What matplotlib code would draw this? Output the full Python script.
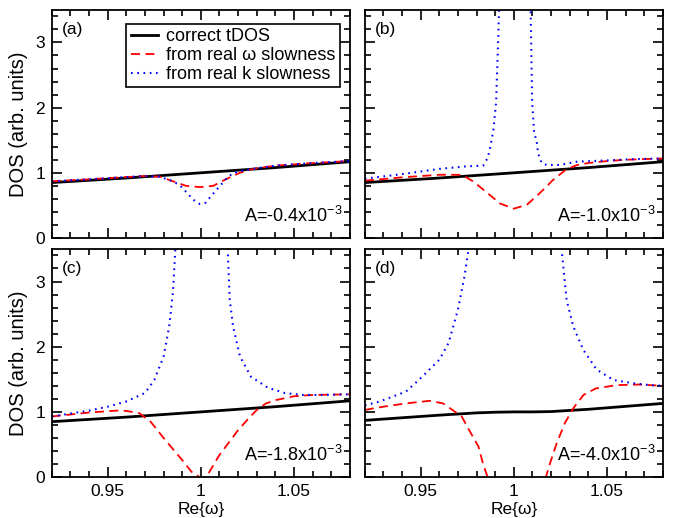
import matplotlib
matplotlib.use("Agg")
import matplotlib.pyplot as plt
from matplotlib.ticker import MultipleLocator

plt.rcParams['font.family'] = ['Liberation Sans', 'DejaVu Sans']
plt.rcParams['mathtext.fontset'] = 'custom'
plt.rcParams['mathtext.rm'] = 'Liberation Sans'
plt.rcParams['mathtext.it'] = 'Liberation Sans'

# correct tDOS (same in a, b, c)
x_tdos = [0.92, 0.94, 0.96, 0.98, 1.0, 1.02, 1.04, 1.06, 1.08]
y_tdos = [0.85, 0.885, 0.92, 0.96, 1.0, 1.04, 1.08, 1.125, 1.17]
x_tdos_d = [0.92, 0.94, 0.96, 0.98, 0.99, 1.0, 1.01, 1.02, 1.04, 1.06, 1.08]
y_tdos_d = [0.87, 0.91, 0.95, 0.985, 0.995, 1.0, 1.0, 1.005, 1.04, 1.085, 1.13]

# panel (a)
xa_w = [0.92, 0.94, 0.96, 0.97, 0.978, 0.985, 0.992, 0.9995, 1.0066, 1.012, 1.017,
        1.021, 1.026, 1.03, 1.04, 1.06, 1.08]
ya_w = [0.87, 0.90, 0.935, 0.95, 0.94, 0.87, 0.80, 0.78, 0.80, 0.88, 0.95,
        1.0, 1.045, 1.07, 1.11, 1.15, 1.18]
xa_k = [0.92, 0.94, 0.96, 0.97, 0.978, 0.985, 0.989, 0.992, 0.996, 0.9995, 1.0025,
        1.006, 1.01, 1.014, 1.017, 1.022, 1.026, 1.03, 1.04, 1.06, 1.08]
ya_k = [0.87, 0.90, 0.935, 0.95, 0.94, 0.87, 0.80, 0.71, 0.585, 0.52, 0.54,
        0.66, 0.79, 0.92, 0.99, 1.03, 1.05, 1.07, 1.11, 1.15, 1.18]

# panel (b)
xb_w = [0.92, 0.94, 0.96, 0.972, 0.978, 0.985, 0.9925, 1.0, 1.007, 1.014, 1.021,
        1.028, 1.034, 1.04, 1.05, 1.06, 1.08]
yb_w = [0.88, 0.93, 0.97, 0.97, 0.87, 0.71, 0.53, 0.45, 0.51, 0.69, 0.89,
        1.05, 1.12, 1.15, 1.18, 1.20, 1.22]
xb_k = [0.92, 0.94, 0.96, 0.975, 0.9835, 0.986, 0.987, 0.988, 0.989, 0.9905, 0.9917,
        0.993, 1.0, 1.008, 1.009, 1.0098, 1.0109, 1.0122, 1.013, 1.0149, 1.0176,
        1.0247, 1.0337, 1.05, 1.065, 1.08]
yb_k = [0.91, 0.98, 1.06, 1.10, 1.11, 1.23, 1.35, 1.5, 1.65, 2.1, 3.15,
        4.5, 8.0, 4.5, 3.5, 2.1, 1.6, 1.5, 1.30, 1.15, 1.12,
        1.12, 1.17, 1.19, 1.21, 1.22]

# panel (c)
xc_w = [0.92, 0.94, 0.95, 0.955, 0.96, 0.967, 0.973, 0.98, 0.985, 0.99, 0.995, 0.9993,
        1.0029, 1.005, 1.01, 1.015, 1.02, 1.025, 1.03, 1.035, 1.04, 1.05, 1.06, 1.08]
yc_w = [0.93, 0.99, 1.01, 1.02, 1.015, 0.98, 0.85, 0.60, 0.43, 0.26, 0.08, 0.0,
        0.0, 0.10, 0.34, 0.53, 0.72, 0.88, 1.03, 1.13, 1.18, 1.24, 1.26, 1.27]
xc_k = [0.92, 0.94, 0.95, 0.96, 0.97, 0.975, 0.98, 0.983, 0.985, 0.986, 0.9875,
        1.0, 1.013, 1.0144, 1.0155, 1.0173, 1.021, 1.0269, 1.036, 1.045, 1.0543,
        1.065, 1.08]
yc_k = [0.93, 1.02, 1.08, 1.16, 1.29, 1.49, 1.85, 2.31, 2.83, 3.34, 4.2,
        9.0, 4.4, 3.5, 2.72, 2.31, 1.85, 1.54, 1.37, 1.29, 1.26,
        1.26, 1.27]

# panel (d)
xd_w = [0.92, 0.93, 0.942, 0.955, 0.962, 0.967, 0.972, 0.976, 0.981, 0.9834, 0.9859,
        0.99, 1.0, 1.01, 1.015, 1.0172, 1.0194, 1.023, 1.0274, 1.032, 1.0374,
        1.044, 1.055, 1.067, 1.08]
yd_w = [1.03, 1.08, 1.13, 1.17, 1.13, 1.03, 0.93, 0.72, 0.47, 0.21, 0.0,
        -0.5, -1.2, -0.5, -0.15, 0.0, 0.21, 0.52, 0.83, 1.06, 1.26,
        1.36, 1.41, 1.42, 1.40]
xd_k = [0.92, 0.928, 0.942, 0.949, 0.96, 0.965, 0.97, 0.9735, 0.9757, 0.978,
        1.0, 1.023, 1.0256, 1.0283, 1.0319, 1.0373, 1.0444, 1.0534, 1.064, 1.073, 1.08]
yd_k = [1.10, 1.16, 1.31, 1.49, 1.80, 2.06, 2.57, 3.08, 3.5, 4.5,
        12.0, 4.5, 3.5, 2.72, 2.31, 1.95, 1.65, 1.49, 1.44, 1.41, 1.40]

panels = [
    ('(a)', r'A=-0.4x10$^{-3}$', x_tdos, y_tdos, xa_w, ya_w, xa_k, ya_k),
    ('(b)', r'A=-1.0x10$^{-3}$', x_tdos, y_tdos, xb_w, yb_w, xb_k, yb_k),
    ('(c)', r'A=-1.8x10$^{-3}$', x_tdos, y_tdos, xc_w, yc_w, xc_k, yc_k),
    ('(d)', r'A=-4.0x10$^{-3}$', x_tdos_d, y_tdos_d, xd_w, yd_w, xd_k, yd_k),
]

fig, axes = plt.subplots(2, 2, figsize=(6.73, 5.18), dpi=100, sharex=True, sharey=True)
fig.subplots_adjust(left=0.077, right=0.985, top=0.981, bottom=0.079,
                    wspace=0.05, hspace=0.048)

for ax, (lab, atxt, xt, yt, xw, yw, xk, yk) in zip(axes.flat, panels):
    ax.plot(xt, yt, color='black', lw=2.0, label='correct tDOS')
    ax.plot(xw, yw, color='red', lw=1.3, dashes=(5, 3), label='from real ω slowness')
    ax.plot(xk, yk, color='blue', lw=1.5, ls=(0, (0.8, 2.2)), label='from real k slowness')
    ax.set_xlim(0.92, 1.08)
    ax.set_ylim(0, 3.5)
    ax.xaxis.set_major_locator(MultipleLocator(0.05))
    ax.xaxis.set_minor_locator(MultipleLocator(0.01))
    ax.yaxis.set_major_locator(MultipleLocator(1))
    ax.yaxis.set_minor_locator(MultipleLocator(0.2))
    ax.tick_params(which='both', direction='in', top=True, right=True,
                   labelsize=12.5, width=1.2)
    ax.tick_params(which='major', length=7, pad=5)
    ax.tick_params(which='minor', length=4)
    for s in ax.spines.values():
        s.set_linewidth(1.3)
    ax.text(0.035, 0.945, lab, transform=ax.transAxes, ha='left', va='top', fontsize=12.5)
    ax.text(0.975, 0.07, atxt, transform=ax.transAxes, ha='right', va='baseline',
            fontsize=13)

axes[0, 0].set_xticks([0.95, 1.0, 1.05], ['0.95', '1', '1.05'])
for ax in axes[:, 0]:
    ax.set_ylabel('DOS (arb. units)', fontsize=14.5, labelpad=5)
for ax in axes[1, :]:
    ax.set_xlabel('Re{ω}', fontsize=12.5, labelpad=2)

leg = axes[0, 0].legend(loc='upper right', bbox_to_anchor=(0.966, 0.939),
                        borderaxespad=0, fontsize=13, handlelength=1.5,
                        handletextpad=0.45, labelspacing=0.1, borderpad=0.25,
                        fancybox=False, framealpha=1)
leg.get_frame().set_edgecolor('black')
leg.get_frame().set_linewidth(1.2)

fig.savefig('out.png', dpi=100)
